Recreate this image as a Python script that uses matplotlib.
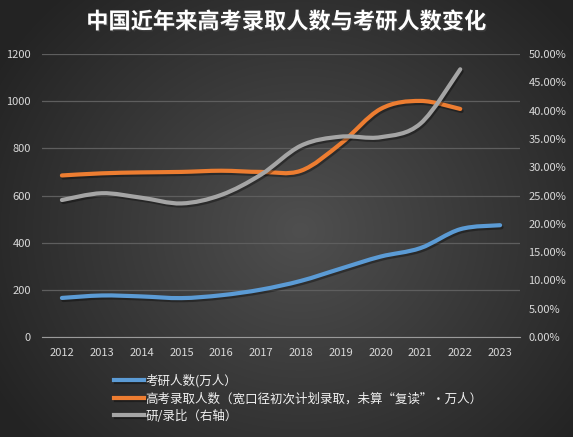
import numpy as np
import matplotlib
matplotlib.use("Agg")
import matplotlib.pyplot as plt
from matplotlib.path import Path
from matplotlib.patches import PathPatch
from matplotlib.lines import Line2D
from matplotlib.ticker import PercentFormatter
import matplotlib.patheffects as pe

plt.rcParams['font.family'] = ['Noto Sans CJK SC', 'DejaVu Sans']

# --- data -------------------------------------------------------------------
years = [2012, 2013, 2014, 2015, 2016, 2017, 2018, 2019, 2020, 2021, 2022, 2023]
kaoyan = [165.6, 176, 172, 164.9, 177, 201, 238, 290, 341, 377, 457, 474]      # 万人
gaokao = [685, 694, 698, 700, 705, 700, 705, 820, 967, 1001, 967]              # 万人, to 2022
ratio = [0.242, 0.254, 0.246, 0.236, 0.251, 0.287, 0.338, 0.354, 0.353, 0.377, 0.473]

title = "中国近年来高考录取人数与考研人数变化"
labels = ["考研人数(万人）",
          "高考录取人数（宽口径初次计划录取，未算“复读”·万人）",
          "研/录比（右轴）"]
colors = ["#5b9bd5", "#ed7d31", "#a5a5a5"]


def smooth_path(xs, ys):
    """Excel-style smoothed line as cubic bezier segments (Catmull-Rom)."""
    p = np.column_stack([xs, ys]).astype(float)
    n = len(p)
    verts, codes = [p[0]], [Path.MOVETO]
    for i in range(n - 1):
        p0 = p[i - 1] if i > 0 else p[i]
        p3 = p[i + 2] if i + 2 < n else p[i + 1]
        c1 = p[i] + (p[i + 1] - p0) / 6
        c2 = p[i + 1] - (p3 - p[i]) / 6
        verts += [c1, c2, p[i + 1]]
        codes += [Path.CURVE4] * 3
    return Path(verts, codes)


W, H = 573, 437
fig = plt.figure(figsize=(W / 100, H / 100), dpi=100)

# radial dark background
bg = fig.add_axes([0, 0, 1, 1], zorder=-10)
yy, xx = np.mgrid[0:H, 0:W]
r = np.sqrt(((xx - 300) / 330) ** 2 + ((yy - 230) / 300) ** 2)
v = np.clip(0.31 - 0.16 * r, 0.14, 0.32)
bg.imshow(np.dstack([v, v, v]), aspect='auto', extent=[0, 1, 0, 1])
bg.axis('off')

ax = fig.add_axes([42 / W, 1 - 337 / H, (520 - 42) / W, (337 - 54) / H])
ax.patch.set_alpha(0)
ax2 = ax.twinx()
ax2.patch.set_alpha(0)

ax.set_xlim(2011.5, 2023.5)
ax.set_ylim(0, 1200)
ax2.set_ylim(0, 0.5)
ax.set_yticks(range(0, 1201, 200))
ax2.set_yticks(np.arange(0, 0.501, 0.05))
ax2.yaxis.set_major_formatter(PercentFormatter(1.0, decimals=2))
ax.set_xticks(years)

ax.grid(axis='y', color='#5e5e5e', lw=0.9)
ax.set_axisbelow(True)
for a in (ax, ax2):
    for s in a.spines.values():
        s.set_visible(False)
    a.tick_params(length=0, colors='#d9d9d9', labelsize=8)
ax.spines['bottom'].set_visible(True)
ax.spines['bottom'].set_color('#9a9a9a')
ax.tick_params(axis='x', pad=8)
ax.tick_params(axis='y', pad=8)
ax2.tick_params(axis='y', pad=6)

shadow = [pe.SimpleLineShadow(offset=(1, -1.5), shadow_color='black', alpha=0.35), pe.Normal()]

series = [(ax, years, kaoyan), (ax, years[:len(gaokao)], gaokao), (ax2, years[:len(ratio)], ratio)]
for (a, xs, ys), c in zip(series, colors):
    patch = PathPatch(smooth_path(xs, ys), fill=False, edgecolor=c, lw=3,
                      capstyle='round', joinstyle='round', transform=a.transData,
                      path_effects=shadow)
    a.add_patch(patch)

fig.text(0.5, 1 - 22 / H, title, ha='center', va='center', color='white',
         fontsize=16, fontweight='bold',
         path_effects=[pe.withSimplePatchShadow(offset=(1, -1), alpha=0.5)])

handles = [Line2D([], [], color=c, lw=3, path_effects=shadow) for c in colors]
leg = fig.legend(handles, labels, loc='upper left', bbox_to_anchor=(108 / W, 1 - 368 / H),
                 frameon=False, fontsize=9, labelcolor='#f0f0f0', handlelength=2.4,
                 handletextpad=0.1, labelspacing=0.35, borderpad=0)

fig.savefig("out.png", dpi=100)
